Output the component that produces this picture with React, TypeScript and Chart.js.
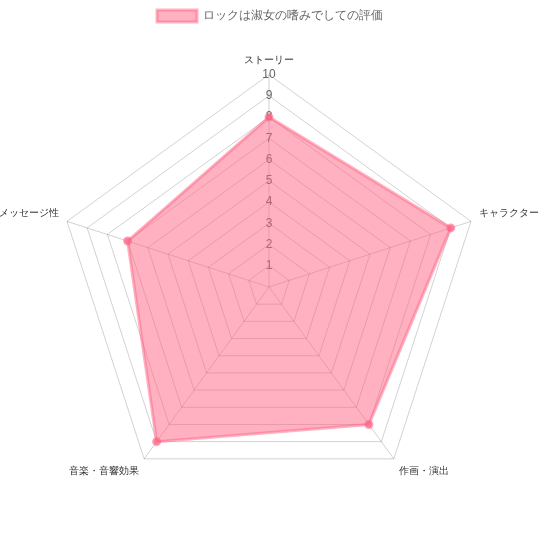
import React, { useEffect, useRef } from "react";
import { Chart, registerables } from "chart.js";

Chart.register(...registerables);

const categories = ["ストーリー", "キャラクター", "作画・演出", "音楽・音響効果", "メッセージ性"];
const seriesLabel = "ロックは淑女の嗜みでしての評価";
const seriesValues = [8, 9, 8, 9, 7];

export default function App() {
  const ref = useRef<HTMLCanvasElement | null>(null);
  useEffect(() => {
    if (!ref.current) return;
    document.body.style.margin = "0";
    Chart.defaults.font.family = "'Helvetica Neue', Helvetica, Arial, sans-serif";
    Chart.defaults.color = "#666";
    const chart = new Chart(ref.current, {
      type: "radar",
      data: {
        labels: categories,
        datasets: [
          {
            label: seriesLabel,
            data: seriesValues,
            backgroundColor: "rgba(255, 99, 132, 0.5)",
            borderColor: "rgba(255, 99, 132, 0.5)",
            borderWidth: 3,
            pointBackgroundColor: "rgba(255, 99, 132, 0.6)",
            pointBorderColor: "rgba(255, 99, 132, 0.6)",
            pointRadius: 3,
          },
        ],
      },
      options: {
        animation: false,
        responsive: false,
        layout: { padding: { bottom: 10 } },
        plugins: {
          legend: {
            labels: { font: { size: 12 }, boxWidth: 40 },
          },
          tooltip: { enabled: false },
        },
        scales: {
          r: {
            min: 0,
            max: 10,
            ticks: {
              stepSize: 1,
              showLabelBackdrop: false,
              font: { size: 12 },
              color: "#666",
            },
            pointLabels: { font: { size: 10 }, color: "#333", padding: 0 },
            grid: { color: "rgba(0,0,0,0.18)" },
            angleLines: { color: "rgba(0,0,0,0.18)" },
          },
        },
      },
    });
    return () => chart.destroy();
  }, []);
  return <canvas ref={ref} width={540} height={540} style={{ display: "block" }} />;
}
